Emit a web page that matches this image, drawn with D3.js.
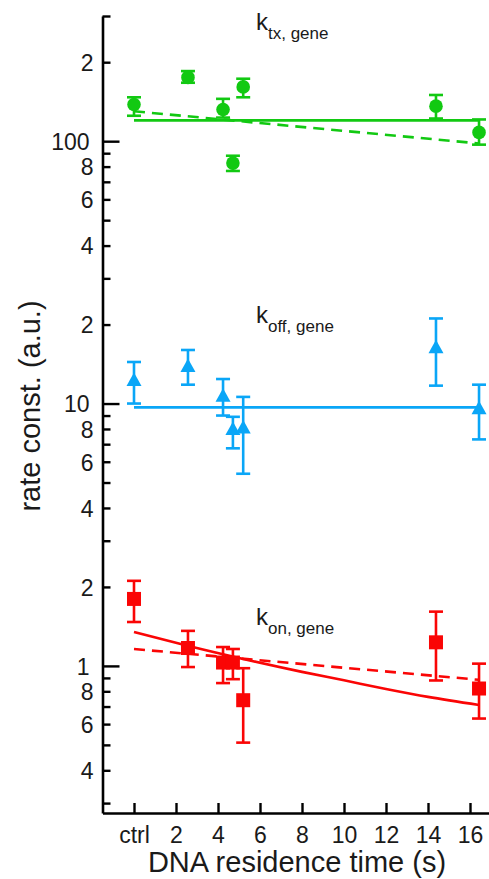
<!DOCTYPE html>
<html>
<head>
<meta charset="utf-8">
<script src="https://cdn.jsdelivr.net/npm/d3@7"></script>
<style>
    body { margin: 0; background: #fff; }
    text { font-family: "Liberation Sans", Arial, sans-serif; fill: #1a1a1a; }
</style>
</head>
<body>
<div id="chart"></div>
<script>
// residence times (ctrl drawn at 0)
let times = [0, 2.57, 4.24, 4.71, 5.2, 14.38, 16.43];
let xTickValues = [0, 2, 4, 6, 8, 10, 12, 14, 16];

// k_tx,gene
let ktx = [138, 175, 132, 82.5, 161, 136, 108];
let ktxLo = [125, 167, 123, 77, 147, 122, 97];
let ktxHi = [147, 185, 145, 88, 173, 150, 121];
// k_off,gene
let koff = [12.3, 13.9, 10.7, 8.0, 8.1, 16.4, 9.6];
let koffLo = [10.0, 11.8, 9.0, 6.75, 5.4, 11.7, 7.3];
let koffHi = [14.4, 16.0, 12.4, 8.9, 10.6, 21.1, 11.8];
// k_on,gene
let kon = [1.80, 1.17, 1.03, 1.03, 0.74, 1.23, 0.82];
let konLo = [1.47, 0.99, 0.86, 0.89, 0.51, 0.88, 0.63];
let konHi = [2.11, 1.36, 1.18, 1.16, 0.98, 1.61, 1.02];

// fit lines
let fitEndsX = [0, 16.43];
let ktxFitSolid = [120, 120];
let ktxFitDashed = [130, 98];
let koffFitSolid = [9.67, 9.67];
let konFitDashed = [1.16, 0.885];
let konCurveX = [0, 2.6, 5.2, 8, 10, 12, 14, 16.43];
let konCurveY = [1.347, 1.191, 1.063, 0.949, 0.881, 0.817, 0.762, 0.710];

// y ticks: one continuous log axis
let yTickValues = [0.3, 0.4, 0.5, 0.6, 0.7, 0.8, 0.9, 1, 2, 3, 4, 5, 6, 7, 8, 9,
    10, 20, 30, 40, 50, 60, 70, 80, 90, 100, 200, 300];

const green = '#12c912';
const blue = '#0aa6f7';
const red = '#fa0505';

const width = 489, height = 879;
const svg = d3.select('#chart').append('svg')
    .attr('width', width)
    .attr('height', height);

const x = d3.scaleLinear().domain([-1.5, 17]).range([102.5, 491]);
const y = d3.scaleLog().domain([0.275, 300]).range([813, 16]);

function isMajor(v) {
    return Math.abs(Math.log10(v) - Math.round(Math.log10(v))) < 1e-9;
}
function leadDigit(v) {
    return Math.round(v / Math.pow(10, Math.floor(Math.log10(v) + 1e-9)));
}

// ---- axes ----
const yAxis = d3.axisLeft(y)
    .tickValues(yTickValues)
    .tickSizeInner(-8)
    .tickSizeOuter(0)
    .tickPadding(9)
    .tickFormat(v => {
        if (isMajor(v)) return d3.format('~g')(v);
        const d = leadDigit(v);
        return (d % 2 === 0) ? String(d) : '';
    });

const gy = svg.append('g')
    .attr('transform', `translate(${x(-1.5)},0)`)
    .call(yAxis);
gy.selectAll('.tick line')
    .attr('stroke-width', 2.4)
    .attr('x2', d => isMajor(d) ? 17 : 8);
gy.selectAll('.tick text')
    .attr('font-size', 23)
    .attr('dy', '0.36em')
    .attr('x', d => isMajor(d) ? -13 : -9);
gy.select('.domain').attr('stroke-width', 2.6);

const xAxis = d3.axisBottom(x)
    .tickValues(xTickValues)
    .tickSizeInner(-10)
    .tickSizeOuter(0)
    .tickPadding(14)
    .tickFormat(v => v === 0 ? 'ctrl' : v);

const gx = svg.append('g')
    .attr('transform', `translate(0,${y(0.275)})`)
    .call(xAxis);
gx.selectAll('.tick line').attr('stroke-width', 2.4);
gx.selectAll('.tick text').attr('font-size', 23);
gx.select('.domain').attr('stroke-width', 2.6);

// axis titles
svg.append('text')
    .attr('x', 297)
    .attr('y', 872)
    .attr('text-anchor', 'middle')
    .attr('font-size', 29)
    .text('DNA residence time (s)');

svg.append('text')
    .attr('transform', 'translate(40,406) rotate(-90)')
    .attr('text-anchor', 'middle')
    .attr('font-size', 29)
    .text('rate const. (a.u.)');

// ---- fits ----
const line = d3.line().x(d => x(d[0])).y(d => y(d[1]));
const curve = d3.line().x(d => x(d[0])).y(d => y(d[1])).curve(d3.curveMonotoneX);

function drawFit(xs, ys, color, dashed, gen) {
    svg.append('path')
        .datum(xs.map((v, i) => [v, ys[i]]))
        .attr('d', gen || line)
        .attr('fill', 'none')
        .attr('stroke', color)
        .attr('stroke-width', 2.6)
        .attr('stroke-dasharray', dashed ? '11,7' : null);
}

drawFit(fitEndsX, ktxFitSolid, green, false);
drawFit(fitEndsX, ktxFitDashed, green, true);
drawFit(fitEndsX, koffFitSolid, blue, false);
drawFit(konCurveX, konCurveY, red, false, curve);
drawFit(fitEndsX, konFitDashed, red, true);

// ---- points with error bars ----
function drawSeries(vals, lo, hi, color, shape) {
    const data = times.map((t, i) => ({t: t, v: vals[i], lo: lo[i], hi: hi[i]}));
    const g = svg.append('g');
    const bars = g.selectAll('g.err').data(data).enter().append('g').attr('class', 'err')
        .attr('stroke', color)
        .attr('stroke-width', 2.6);
    bars.append('line')
        .attr('x1', d => x(d.t)).attr('x2', d => x(d.t))
        .attr('y1', d => y(d.lo)).attr('y2', d => y(d.hi));
    bars.append('line')
        .attr('x1', d => x(d.t) - 7).attr('x2', d => x(d.t) + 7)
        .attr('y1', d => y(d.lo)).attr('y2', d => y(d.lo));
    bars.append('line')
        .attr('x1', d => x(d.t) - 7).attr('x2', d => x(d.t) + 7)
        .attr('y1', d => y(d.hi)).attr('y2', d => y(d.hi));

    const marks = g.selectAll('.mark').data(data).enter();
    if (shape === 'circle') {
        marks.append('circle')
            .attr('cx', d => x(d.t)).attr('cy', d => y(d.v))
            .attr('r', 6.8)
            .attr('fill', color);
    } else if (shape === 'square') {
        marks.append('rect')
            .attr('x', d => x(d.t) - 7).attr('y', d => y(d.v) - 7)
            .attr('width', 14).attr('height', 14)
            .attr('fill', color);
    } else {
        marks.append('path')
            .attr('d', d => {
                const cx = x(d.t), cy = y(d.v);
                return `M${cx},${cy - 7.5}L${cx + 7.5},${cy + 6}L${cx - 7.5},${cy + 6}Z`;
            })
            .attr('fill', color);
    }
}

drawSeries(ktx, ktxLo, ktxHi, green, 'circle');
drawSeries(koff, koffLo, koffHi, blue, 'triangle');
drawSeries(kon, konLo, konHi, red, 'square');

// ---- labels ----
function label(xPos, yPos, sub) {
    const t = svg.append('text')
        .attr('x', xPos)
        .attr('y', yPos)
        .attr('font-size', 24)
        .text('k');
    t.append('tspan')
        .attr('dy', 9)
        .attr('font-size', 17)
        .text(sub);
}
label(256, 30, 'tx, gene');
label(256, 323, 'off, gene');
label(256, 625, 'on, gene');
</script>
</body>
</html>
